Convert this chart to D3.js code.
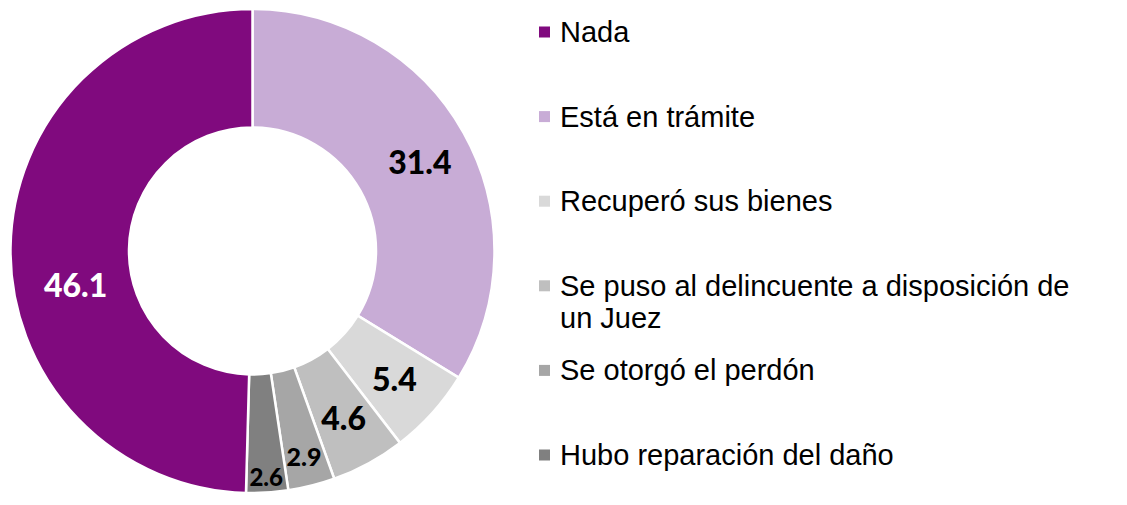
<!DOCTYPE html>
<html>
<head>
<meta charset="utf-8">
<script src="https://cdn.jsdelivr.net/npm/d3@7"></script>
<style>
  html, body { margin: 0; padding: 0; background: #fff; }
  svg { display: block; }
</style>
</head>
<body>
<svg id="chart" width="1127" height="505"></svg>
<script>
// ---- data ----
const categories = [
  "Está en trámite",
  "Recuperó sus bienes",
  "Se puso al delincuente a disposición de un Juez",
  "Se otorgó el perdón",
  "Hubo reparación del daño",
  "Nada"
];
const values = [31.4, 5.4, 4.6, 2.9, 2.6, 46.1];
const legendOrder = ["Nada", "Está en trámite", "Recuperó sus bienes",
  "Se puso al delincuente a disposición de un Juez", "Se otorgó el perdón",
  "Hubo reparación del daño"];

// ---- style ----
const colors = {
  "Nada": "#800A7E",
  "Está en trámite": "#C8ACD6",
  "Recuperó sus bienes": "#D9D9D9",
  "Se puso al delincuente a disposición de un Juez": "#BFBFBF",
  "Se otorgó el perdón": "#A6A6A6",
  "Hubo reparación del daño": "#808080"
};
// label placement nudges (radius, angle offset in degrees)
const labelStyle = {
  "Está en trámite": {r: 190, da: 1, size: 32, fill: "#000"},
  "Recuperó sus bienes": {r: 191, da: 0, size: 32, fill: "#000"},
  "Se puso al delincuente a disposición de un Juez": {r: 190, da: 0, size: 32, fill: "#000"},
  "Se otorgó el perdón": {r: 211, da: 0, size: 25, fill: "#000"},
  "Hubo reparación del daño": {r: 226, da: 0, size: 24, fill: "#000"},
  "Nada": {r: 180, da: -11.5, size: 32, fill: "#fff"}
};

const svg = d3.select("#chart");
const cx = 252.5, cy = 251, outerR = 242, innerR = 123.5;

const data = categories.map((c, i) => ({cat: c, value: values[i]}));
const pie = d3.pie().value(d => d.value).sort(null);
const arcs = pie(data);
const arc = d3.arc().innerRadius(innerR).outerRadius(outerR);

const g = svg.append("g").attr("transform", `translate(${cx},${cy})`);
g.selectAll("path").data(arcs).join("path")
  .attr("d", arc)
  .attr("fill", d => colors[d.data.cat])
  .attr("stroke", "#fff")
  .attr("stroke-width", 2.5)
  .attr("stroke-linejoin", "miter");

g.selectAll("text.lbl").data(arcs).join("text")
  .attr("class", "lbl")
  .each(function(d) {
    const s = labelStyle[d.data.cat];
    const a = (d.startAngle + d.endAngle) / 2 + s.da * Math.PI / 180;
    d3.select(this)
      .attr("x", s.r * Math.sin(a))
      .attr("y", -s.r * Math.cos(a))
      .attr("font-size", s.size)
      .attr("fill", s.fill);
  })
  .attr("text-anchor", "middle")
  .attr("dominant-baseline", "central")
  .attr("font-family", "Lato, 'Open Sans', sans-serif")
  .attr("font-weight", "900")
  .text(d => d3.format(".1f")(d.data.value));

// ---- legend ----
const legend = svg.append("g").attr("transform", "translate(539,32)");
const step = 84.6, lineH = 32, maxW = 530, fs = 29;
legendOrder.forEach((cat, i) => {
  const y = i * step;
  legend.append("rect")
    .attr("x", 0).attr("y", y - 5.5)
    .attr("width", 11).attr("height", 11)
    .attr("fill", colors[cat]);
  const t = legend.append("text")
    .attr("x", 21).attr("y", y + 10)
    .attr("font-family", "'Liberation Sans', Arial, sans-serif")
    .attr("font-size", fs)
    .attr("fill", "#000");
  const words = cat.split(" ");
  let line = [];
  let tspan = t.append("tspan").attr("x", 21).attr("dy", 0);
  words.forEach(w => {
    line.push(w);
    tspan.text(line.join(" "));
    if (tspan.node().getComputedTextLength() > maxW && line.length > 1) {
      line.pop();
      tspan.text(line.join(" "));
      line = [w];
      tspan = t.append("tspan").attr("x", 21).attr("dy", lineH).text(w);
    }
  });
});
</script>
</body>
</html>
